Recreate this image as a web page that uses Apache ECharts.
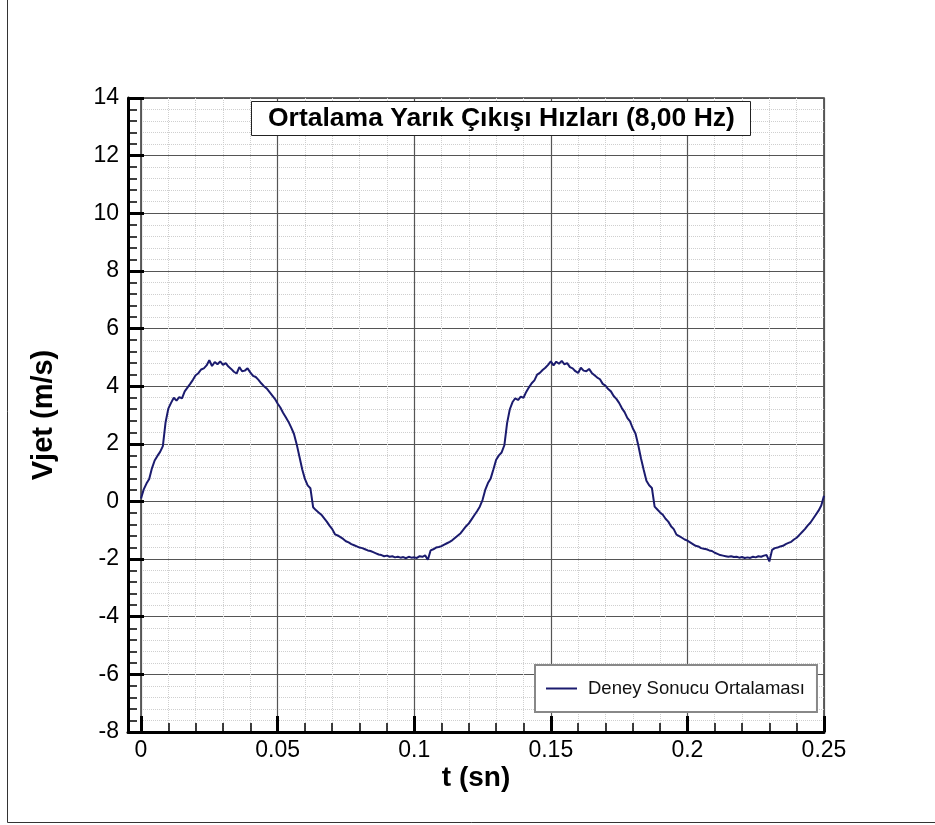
<!DOCTYPE html>
<html>
<head>
<meta charset="utf-8">
<title>Ortalama Yarık Çıkışı Hızları</title>
<script src="https://cdn.jsdelivr.net/npm/echarts@6/dist/echarts.min.js"></script>
<style>
html, body {margin: 0; padding: 0; background: #fff;}
#main {width: 935px; height: 825px;}
</style>
</head>
<body>
<div id="main"></div>
<script>
// ölçüm adımı (s)
var sampleStep = 0.001;

// 1. periyot, t = 0 .. 0.124 s (m/s)
var vjetPeriod1 = [
  0.10, 0.42, 0.62, 0.78, 1.15, 1.42, 1.58, 1.72, 1.92, 2.75,
  3.22, 3.42, 3.60, 3.50, 3.62, 3.58, 3.82, 3.95, 4.08, 4.22,
  4.38, 4.45, 4.58, 4.62, 4.72, 4.90, 4.70, 4.84, 4.76, 4.86,
  4.74, 4.80, 4.68, 4.60, 4.50, 4.44, 4.66, 4.52, 4.54, 4.62,
  4.48, 4.36, 4.32, 4.22, 4.10, 4.00, 3.92, 3.80, 3.68, 3.56,
  3.40, 3.26, 3.08, 2.92, 2.76, 2.56, 2.34, 1.98, 1.55, 1.12,
  0.78, 0.56, 0.46, -0.20, -0.30, -0.38, -0.46, -0.58, -0.70, -0.84,
  -0.96, -1.14, -1.18, -1.24, -1.30, -1.38, -1.42, -1.48, -1.52, -1.56,
  -1.60, -1.62, -1.66, -1.70, -1.72, -1.76, -1.80, -1.84, -1.86, -1.90,
  -1.88, -1.92, -1.90, -1.94, -1.92, -1.95, -1.93, -1.97, -1.92, -1.95,
  -1.94, -1.96, -1.90, -1.92, -1.87, -2.02, -1.70, -1.66, -1.60, -1.58,
  -1.55, -1.50, -1.45, -1.40, -1.34, -1.26, -1.18, -1.10, -0.98, -0.86,
  -0.76, -0.62, -0.48, -0.34, -0.18
];

// 2. periyot, t = 0.125 .. 0.25 s (m/s)
var vjetPeriod2 = [
  0.05, 0.40, 0.64, 0.80, 1.12, 1.45, 1.60, 1.70, 1.95, 2.72,
  3.20, 3.45, 3.58, 3.52, 3.64, 3.60, 3.80, 3.96, 4.10, 4.20,
  4.40, 4.46, 4.56, 4.64, 4.74, 4.86, 4.72, 4.85, 4.78, 4.88,
  4.76, 4.80, 4.66, 4.62, 4.52, 4.46, 4.64, 4.54, 4.52, 4.60,
  4.46, 4.38, 4.30, 4.24, 4.08, 4.02, 3.90, 3.82, 3.66, 3.56,
  3.42, 3.24, 3.10, 2.90, 2.78, 2.54, 2.36, 1.96, 1.50, 1.10,
  0.72, 0.56, 0.47, -0.18, -0.28, -0.38, -0.46, -0.60, -0.70, -0.86,
  -0.96, -1.15, -1.20, -1.26, -1.32, -1.36, -1.42, -1.48, -1.54, -1.56,
  -1.62, -1.64, -1.66, -1.70, -1.72, -1.78, -1.82, -1.86, -1.88, -1.90,
  -1.92, -1.90, -1.93, -1.92, -1.95, -1.93, -1.96, -1.94, -1.96, -1.92,
  -1.94, -1.90, -1.92, -1.88, -1.86, -2.08, -1.68, -1.62, -1.60, -1.56,
  -1.54, -1.48, -1.44, -1.40, -1.32, -1.26, -1.16, -1.06, -0.96, -0.84,
  -0.74, -0.60, -0.46, -0.32, -0.14, 0.20
];

var seriesName = 'Deney Sonucu Ortalaması';
var chartTitle = 'Ortalama Yarık Çıkışı Hızları (8,00 Hz)';

var vjet = vjetPeriod1.concat(vjetPeriod2);
var points = vjet.map(function (v, i) {
  return [+(i * sampleStep).toFixed(3), v];
});

var FONT = '"Liberation Sans", Arial, Helvetica, sans-serif';
var NAVY = '#1b1b6e';

var myChart = echarts.init(document.getElementById('main'), null, {renderer: 'canvas'});

var option = {
  animation: false,
  backgroundColor: '#fff',
  textStyle: {fontFamily: FONT},
  title: {
    text: chartTitle,
    left: 251,
    top: 101,
    padding: [4, 16, 3, 17],
    borderColor: '#222',
    borderWidth: 1,
    backgroundColor: '#fff',
    textStyle: {fontFamily: FONT, fontWeight: 'bold', fontSize: 26.5, color: '#000', lineHeight: 28}
  },
  legend: {
    left: 535,
    top: 665,
    padding: [14, 12, 14, 11],
    borderColor: '#888',
    borderWidth: 2,
    backgroundColor: '#fff',
    itemWidth: 31,
    itemHeight: 2,
    icon: 'rect',
    textStyle: {fontFamily: FONT, fontSize: 18.5, color: '#111', padding: [0, 0, 0, 6]},
    data: [seriesName]
  },
  graphic: [
    {type: 'line', shape: {x1: 7.5, y1: 0, x2: 7.5, y2: 822.5}, style: {stroke: '#333', lineWidth: 1}},
    {type: 'line', shape: {x1: 7.5, y1: 822.5, x2: 935, y2: 822.5}, style: {stroke: '#333', lineWidth: 1}}
  ],
  grid: [
    // dış çerçeve (kalın eksen çizgileri)
    {left: 128, right: 111, top: 98, bottom: 93, show: false},
    // veri alanı
    {left: 141, right: 111, top: 98, bottom: 93, show: true, borderColor: '#333', borderWidth: 1.5, backgroundColor: 'transparent'}
  ],
  xAxis: [
    {
      gridIndex: 0,
      type: 'value',
      min: -0.00476,
      max: 0.25,
      name: 't (sn)',
      nameLocation: 'middle',
      nameGap: 32,
      nameTextStyle: {fontFamily: FONT, fontWeight: 'bold', fontSize: 28, color: '#000'},
      axisLine: {onZero: false, lineStyle: {color: '#000', width: 3}},
      axisTick: {show: false},
      axisLabel: {show: false},
      splitLine: {show: false}
    },
    {
      gridIndex: 1,
      type: 'value',
      min: 0,
      max: 0.25,
      interval: 0.05,
      axisLine: {show: false, onZero: false},
      axisTick: {show: true, inside: true, length: 16, lineStyle: {color: '#000', width: 3}},
      minorTick: {show: true, splitNumber: 5, length: 9, lineStyle: {color: '#000', width: 1.5}},
      axisLabel: {fontSize: 23, color: '#000', margin: 7},
      splitLine: {show: true, lineStyle: {color: '#555', width: 1.2}},
      minorSplitLine: {show: true, lineStyle: {color: '#cfcfcf', width: 1, type: 'dotted'}}
    }
  ],
  yAxis: [
    {
      gridIndex: 0,
      type: 'value',
      min: -8,
      max: 14,
      interval: 2,
      name: 'Vjet (m/s)',
      nameLocation: 'middle',
      nameGap: 70,
      nameTextStyle: {fontFamily: FONT, fontWeight: 'bold', fontSize: 29, color: '#000'},
      axisLine: {show: true, onZero: false, lineStyle: {color: '#000', width: 3}},
      axisTick: {show: true, inside: true, length: 16, lineStyle: {color: '#000', width: 3}},
      minorTick: {show: true, splitNumber: 5, length: 9, lineStyle: {color: '#000', width: 1.5}},
      axisLabel: {fontSize: 23, color: '#000', margin: 9},
      splitLine: {show: false}
    },
    {
      gridIndex: 1,
      type: 'value',
      min: -8,
      max: 14,
      interval: 2,
      axisLine: {show: false, onZero: false},
      axisTick: {show: false},
      minorTick: {show: false, splitNumber: 5},
      axisLabel: {show: false},
      splitLine: {show: true, lineStyle: {color: '#555', width: 1.2}},
      minorSplitLine: {show: true, lineStyle: {color: '#cfcfcf', width: 1, type: 'dotted'}}
    }
  ],
  series: [
    {
      name: seriesName,
      type: 'line',
      xAxisIndex: 1,
      yAxisIndex: 1,
      data: points,
      symbol: 'none',
      showSymbol: false,
      lineStyle: {color: NAVY, width: 2},
      itemStyle: {color: NAVY},
      z: 5
    }
  ]
};

myChart.setOption(option);
</script>
</body>
</html>
